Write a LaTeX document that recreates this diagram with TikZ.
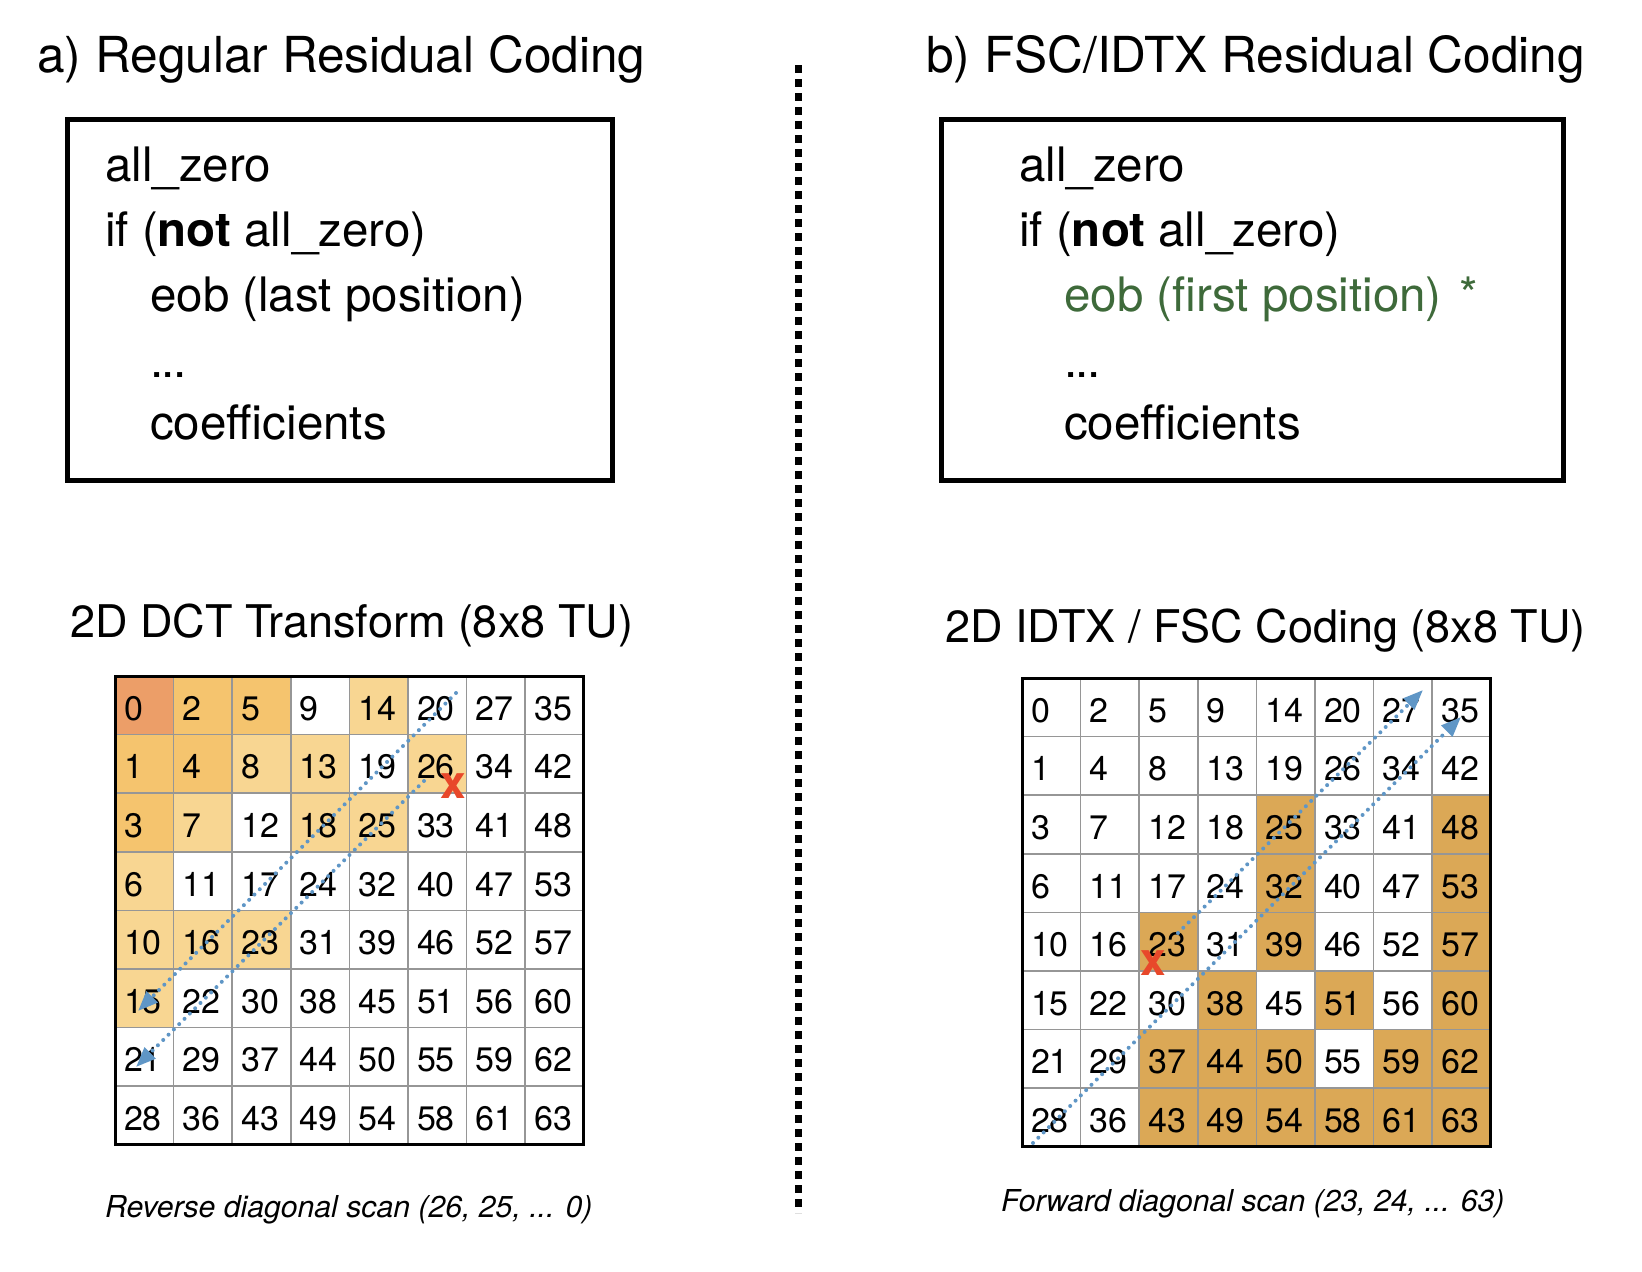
\documentclass[tikz,border=0pt]{standalone}
\usepackage{fontspec}
\setmainfont{TeX Gyre Heros}
\usetikzlibrary{arrows.meta}

\definecolor{cellgray}{RGB}{150,150,150}
\definecolor{fillD}{RGB}{236,158,104}
\definecolor{fillM}{RGB}{245,196,110}
\definecolor{fillL}{RGB}{248,214,146}
\definecolor{fillW}{RGB}{255,255,255}
\definecolor{fillG}{RGB}{219,168,86}
\definecolor{scanblue}{RGB}{95,150,198}
\definecolor{eobgreen}{RGB}{62,106,58}
\definecolor{markred}{RGB}{232,72,42}

\newcommand{\tightdots}{.\kern-1.5pt.\kern-1.5pt.}

\tikzset{
  title/.style={anchor=base west, inner sep=0pt, font=\fontsize{49.6}{58}\selectfont},
  gridtitle/.style={anchor=base west, inner sep=0pt, font=\fontsize{45}{54}\selectfont},
  code/.style={anchor=base west, inner sep=0pt, font=\fontsize{47.5}{56}\selectfont},
  caption/.style={anchor=base west, inner sep=0pt, font=\fontsize{30.2}{36}\selectfont\itshape},
  codebox/.style={draw, line width=5pt},
  cell/.style={draw=cellgray, line width=1.5pt, outer sep=0pt,
    minimum width=58.6pt, minimum height=58.6pt, inner xsep=9pt, inner ysep=0pt,
    text width=40.6pt, text height=30pt, text depth=0pt, align=left,
    font=\fontsize{34}{40}\selectfont},
  scan/.style={scanblue, line width=4pt, line cap=round, dash pattern=on 0pt off 7.5pt,
    -{Triangle[length=20pt,width=15pt]}},
  eobmark/.style={markred, inner sep=0pt, font=\fontsize{46}{46}\selectfont\bfseries},
}

\begin{document}
\begin{tikzpicture}[x=1pt,y=-1pt]
  \useasboundingbox (0,0) rectangle (1642,1272);

  % Titles
  \node[title] (titleA) at (37,72) {a) Regular Residual Coding};
  \node[title] (titleB) at (926,72) {b) FSC/IDTX Residual Coding};

  % Syntax boxes
  \draw[codebox] (67,119) rectangle (612,480);
  \draw[codebox] (941,119) rectangle (1563,480);

  \node[code] (a1) at (105,181) {all\_zero};
  \node[code] (a2) at (105,246) {if (\textbf{not} all\_zero)};
  \node[code] (a3) at (150,311) {eob (last position)};
  \node[code] (a4) at (150,377) {\tightdots};
  \node[code] (a5) at (150,439) {coefficients};

  \node[code] (b1) at (1019,181) {all\_zero};
  \node[code] (b2) at (1019,246) {if (\textbf{not} all\_zero)};
  \node[code, eobgreen] (b3) at (1064,311) {eob (first position)\hspace{5pt} *};
  \node[code] (b4) at (1064,377) {\tightdots};
  \node[code] (b5) at (1064,439) {coefficients};

  % Separator
  \coordinate (sepTop) at (798,65);
  \coordinate (sepBot) at (798,1213);
  \draw[line width=7pt, dash pattern=on 8pt off 6pt] (sepTop) -- (sepBot);

  % Grid titles
  \node[gridtitle] (gridA) at (70,637) {2D DCT Transform (8x8 TU)};
  \node[gridtitle] (gridB) at (945,642) {2D IDTX / FSC Coding (8x8 TU)};

  % Left grid (DCT)
  \foreach \row [count=\ri from 0] in {
      {0/D,2/M,5/M,9/W,14/L,20/W,27/W,35/W},
      {1/M,4/M,8/L,13/L,19/W,26/L,34/W,42/W},
      {3/M,7/L,12/W,18/L,25/L,33/W,41/W,48/W},
      {6/L,11/W,17/W,24/W,32/W,40/W,47/W,53/W},
      {10/L,16/L,23/L,31/W,39/W,46/W,52/W,57/W},
      {15/L,22/W,30/W,38/W,45/W,51/W,56/W,60/W},
      {21/W,29/W,37/W,44/W,50/W,55/W,59/W,62/W},
      {28/W,36/W,43/W,49/W,54/W,58/W,61/W,63/W}}{
    \foreach \v/\f [count=\ci from 0] in \row
      \node[cell, fill=fill\f] (L-\ri-\ci) at ({115+(\ci+0.5)*58.6},{676+(\ri+0.5)*58.6}) {\v};
  }
  \draw[line width=3pt] (L-0-0.north west) rectangle (L-7-7.south east);

  % Right grid (IDTX / FSC)
  \foreach \row [count=\ri from 0] in {
      {0/W,2/W,5/W,9/W,14/W,20/W,27/W,35/W},
      {1/W,4/W,8/W,13/W,19/W,26/W,34/W,42/W},
      {3/W,7/W,12/W,18/W,25/G,33/W,41/W,48/G},
      {6/W,11/W,17/W,24/W,32/G,40/W,47/W,53/G},
      {10/W,16/W,23/G,31/W,39/G,46/W,52/W,57/G},
      {15/W,22/W,30/W,38/G,45/W,51/G,56/W,60/G},
      {21/W,29/W,37/G,44/G,50/G,55/W,59/G,62/G},
      {28/W,36/W,43/G,49/G,54/G,58/G,61/G,63/G}}{
    \foreach \v/\f [count=\ci from 0] in \row
      \node[cell, fill=fill\f] (R-\ri-\ci) at ({1022+(\ci+0.5)*58.6},{678+(\ri+0.5)*58.6}) {\v};
  }
  \draw[line width=3pt] (R-0-0.north west) rectangle (R-7-7.south east);

  % Scan paths
  \coordinate (sA1) at (456,693);
  \coordinate (eA1) at (138,1011);
  \coordinate (sA2) at (424,781);
  \coordinate (eA2) at (136,1067);
  \draw[scan] (sA1) -- (eA1);
  \draw[scan] (sA2) -- (eA2);

  \coordinate (sB1) at (1033,1143);
  \coordinate (eB1) at (1461,717);
  \coordinate (sB2) at (1178,933);
  \coordinate (eB2) at (1423,690);
  \draw[scan] (sB1) -- (eB1);
  \draw[scan] (sB2) -- (eB2);

  % EOB marks
  \node[eobmark] (xA) at (453.5,786) {x};
  \node[eobmark] (xB) at (1153,963) {x};

  % Captions
  \node[caption] (capA) at (105,1217) {Reverse diagonal scan (26, 25, ... 0)};
  \node[caption] (capB) at (1001,1211) {Forward diagonal scan (23, 24, ... 63)};
\end{tikzpicture}
\end{document}
